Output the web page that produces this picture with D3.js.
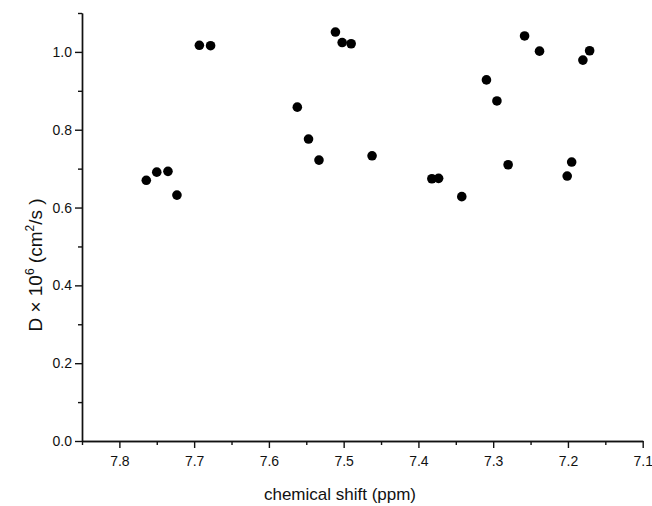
<!DOCTYPE html>
<html>
<head>
<meta charset="utf-8">
<script src="https://cdn.jsdelivr.net/npm/d3@7"></script>
<style>
body{margin:0;background:#fff;}
text{font-family:"Liberation Sans Narrow","Liberation Sans",Arial,sans-serif;fill:#111;}
.axis path,.axis line{stroke:#111;stroke-width:1.4;}
</style>
</head>
<body>
<div id="chart"></div>
<script>
// chemical shift (ppm) of each peak
const shifts = [7.764,7.750,7.735,7.723,7.693,7.678,7.562,7.547,7.533,7.511,7.502,7.490,7.462,
  7.382,7.373,7.342,7.309,7.295,7.280,7.258,7.238,7.201,7.195,7.180,7.171];
// diffusion coefficient D x 10^6 (cm2/s)
const diffs = [0.670,0.691,0.693,0.632,1.017,1.016,0.858,0.776,0.722,1.051,1.024,1.021,0.733,
  0.674,0.675,0.628,0.928,0.874,0.710,1.041,1.002,0.681,0.717,0.979,1.003];

const xTicks = [7.8,7.7,7.6,7.5,7.4,7.3,7.2,7.1];
const xMinor = [7.85,7.75,7.65,7.55,7.45,7.35,7.25,7.15];
const yTicks = [0,0.2,0.4,0.6,0.8,1.0];
const yMinor = [0.1,0.3,0.5,0.7,0.9,1.1];

const W = 652, H = 506;
const svg = d3.select('#chart').append('svg')
  .attr('width',W).attr('height',H);

const x = d3.scaleLinear().domain([7.85,7.1]).range([82,642.7]);
const y = d3.scaleLinear().domain([0,1.1]).range([441,13]);

// minor ticks first
svg.append('g').attr('class','axis')
  .attr('transform','translate(0,441)')
  .call(d3.axisBottom(x).tickValues(xMinor).tickSize(4).tickSizeOuter(0).tickFormat(''));
svg.append('g').attr('class','axis')
  .attr('transform','translate(82,0)')
  .call(d3.axisLeft(y).tickValues(yMinor).tickSize(4).tickSizeOuter(0).tickFormat(''));

const xAxis = svg.append('g').attr('class','axis')
  .attr('transform','translate(0,441)')
  .call(d3.axisBottom(x).tickValues(xTicks).tickSize(7).tickSizeOuter(0).tickPadding(8)
    .tickFormat(d3.format('.1f')));
xAxis.selectAll('text').style('font-size','14px');

const yAxis = svg.append('g').attr('class','axis')
  .attr('transform','translate(82,0)')
  .call(d3.axisLeft(y).tickValues(yTicks).tickSize(7).tickSizeOuter(0).tickPadding(3)
    .tickFormat(d3.format('.1f')));
yAxis.selectAll('text').style('font-size','14px');

// points
svg.append('g').selectAll('circle')
  .data(shifts)
  .enter()
  .append('circle')
  .attr('cx',d=>x(d))
  .attr('cy',(d,i)=>y(diffs[i]))
  .attr('r',4.8)
  .attr('fill','#000');

// axis titles
svg.append('text')
  .attr('x',340).attr('y',500)
  .attr('text-anchor','middle')
  .style('font-size','17px')
  .text('chemical shift (ppm)');

const yt = svg.append('text')
  .attr('transform','translate(42,265) rotate(-90)')
  .attr('text-anchor','middle')
  .style('font-size','19px');
yt.append('tspan').text('D \u00d7 10');
yt.append('tspan').attr('dy',-8).style('font-size','12px').text('6');
yt.append('tspan').attr('dy',8).text(' (cm');
yt.append('tspan').attr('dy',-8).style('font-size','12px').text('2');
yt.append('tspan').attr('dy',8).text('/s )');
</script>
</body>
</html>
